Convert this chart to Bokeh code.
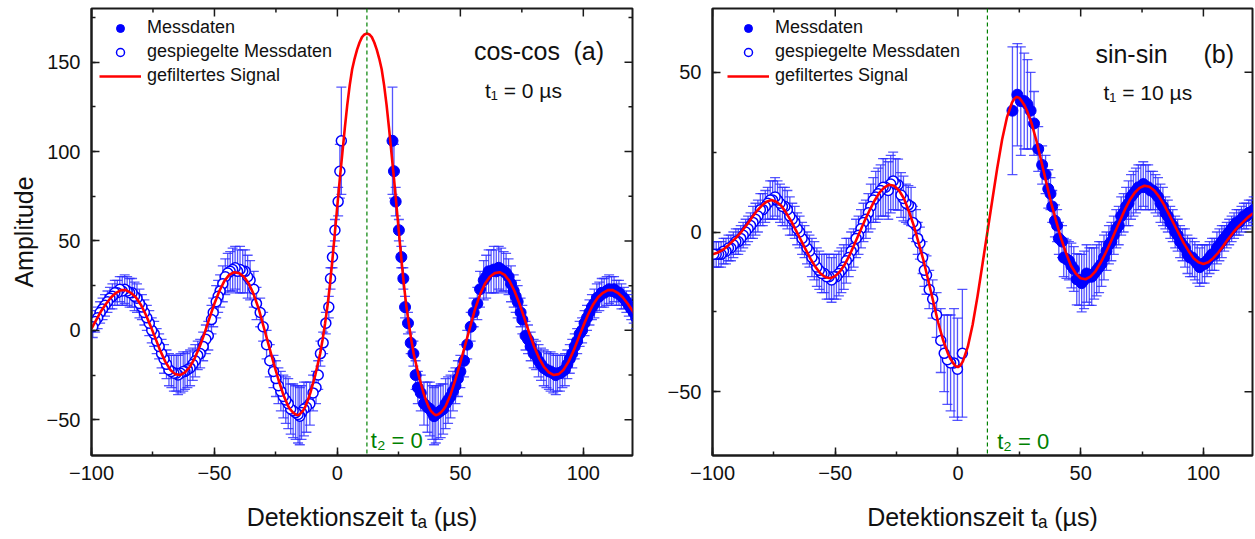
import numpy as np
from bokeh.plotting import figure
from bokeh.layouts import row
from bokeh.models import (ColumnDataSource, SingleIntervalTicker, Span,
                          Legend, LegendItem, Range1d, Label)
from bokeh.embed import file_html
from bokeh.resources import INLINE

# ---------------- data ----------------
t2_zero = 12.0  # position of t2 = 0 on the detection-time axis (µs)

# (a) cos-cos, t1 = 0 µs : measured data (right of t2 = 0)
cos_t = [22.4, 23.0, 23.7, 25.0, 26.0, 26.8, 27.5, 28.7, 29.8, 30.9, 31.8, 32.7,
         33.9, 35.2, 36.6, 37.6, 38.6, 39.3, 40.0,
         41.0, 42.0, 43.0, 44.0, 45.0, 46.0, 47.0, 48.0, 49.0, 50.0,
         51.5, 52.8, 54.2, 55.4, 56.9, 58.0, 59.5,
         60.5, 61.5, 62.5, 63.6, 64.6, 65.6, 66.6, 67.6, 68.6, 69.6, 70.6, 71.7, 72.5, 73.3,
         74.5, 75.2, 76.5, 77.5, 78.6, 79.8, 80.8, 81.8, 82.8, 83.9, 85.0, 86.0, 86.7, 87.8,
         88.8, 89.5,
         90.5, 91.5, 92.5, 93.5, 94.5, 95.5, 96.5, 97.5, 98.5, 99.5, 100.5, 101.5, 102.5,
         103.5, 104.5, 105.5, 106.5, 107.5, 108.5, 109.5, 110.5, 111.5, 112.5, 113.5, 114.5,
         115.5, 116.5, 117.5, 118.5, 119.5, 120.5, 121.5, 122.5, 123.5]
cos_amp = [106, 89, 72, 56, 41, 29, 13, 4, -7, -13, -25, -32,
           -35, -41, -43, -44, -46, -48, -47,
           -46, -45, -44, -41, -39, -37, -34, -31, -27, -23,
           -17, -8, 2, 10, 15, 23, 28,
           30, 33, 33, 34, 33, 35, 34, 33, 32, 30, 26, 22, 19, 16,
           10, 6, -3, -5, -9, -13, -14, -17, -19, -21, -22, -23, -23, -24,
           -25, -24,
           -24, -23, -22, -19, -16, -13, -9, -6, -2, 0, 4, 7, 10,
           13, 15, 18, 19, 21, 21, 22, 23, 22, 23, 21, 21,
           19, 18, 16, 14, 12, 10, 7, 5, 2]
cos_err = [30, 15, 8, 6, 6, 6, 6, 6, 6, 7, 8, 9,
           10, 12, 14, 15, 15, 16, 16,
           15, 15, 14, 14, 13, 12, 11, 10, 10, 9,
           9, 8, 8, 8, 9, 10, 11,
           12, 12, 12, 13, 12, 12, 12, 11, 11, 10, 10, 9, 9, 9,
           8, 8, 8, 8, 8, 8, 8, 9, 9, 10, 10, 10, 11, 11,
           11, 10,
           10, 9, 9, 8, 8, 8, 7, 7, 7, 7, 7, 7, 7,
           7, 8, 8, 8, 8, 8, 8, 8, 8, 7, 7, 7,
           7, 6, 6, 6, 6, 6, 6, 6, 6]
# filtered signal (a), t_a >= t2_zero
cos_fit_t = [12, 13, 14, 15, 16, 17, 18, 19, 20, 21, 22, 23, 24, 25, 26, 27, 28, 29, 30,
             31, 32, 33, 34, 35, 36, 37, 38, 39, 40, 41, 42, 43, 44, 46, 48, 50, 52, 54,
             56, 58, 60, 62, 64, 66, 68, 70, 72, 74, 76, 78, 80, 82, 84, 86, 88, 90, 92,
             94, 96, 98, 100, 102, 104, 106, 108, 110, 112, 114, 116, 118, 120, 122, 124]
cos_fit_amp = [166, 165.5, 164, 161, 157, 152, 146, 137, 126, 113, 99, 85, 70, 55, 40,
               26, 14, 4, -5, -13, -19, -25, -30, -35, -39, -42.5, -45, -46.5, -47.5,
               -47, -46, -44.5, -42.5, -36, -27.5, -18, -8, 2, 12, 20, 26, 30, 32, 32.5,
               31, 27.5, 22, 15, 7, -1.5, -9, -15.5, -20.5, -23.5, -25, -24.5, -22,
               -17.5, -11.5, -4.5, 2.5, 9, 14.5, 18.5, 21, 22.5, 22.5, 21, 18.5, 15, 11,
               6, 1]

# (b) sin-sin, t1 = 10 µs : measured data (right of t2 = 0)
sin_t = [22.2, 24.2, 25.6, 27.0, 28.3, 29.6, 31.0, 32.7, 34.3, 35.7, 36.8, 37.7, 38.4,
         39.5, 40.4, 41.1, 42.4, 43.1, 44.2, 45.2, 46.2, 47.2, 48.4, 49.4, 50.4, 51.4, 52.4,
         53.5, 54.5, 55.5, 56.5, 57.5, 58.5, 59.5, 60.5, 61.5, 62.5,
         63.5, 64.5, 65.5, 66.5, 67.5, 68.5, 69.5, 70.5, 71.5, 72.5,
         73.5, 74.5, 75.5, 76.5, 77.5, 78.5, 79.5, 80.5, 81.5, 82.5,
         83.5, 84.5, 85.5, 86.5, 87.5, 88.5, 89.5, 90.5, 91.5, 92.5,
         93.5, 94.5, 95.5, 96.5, 97.5, 98.5, 99.5, 100.5, 101.5, 102.5,
         103.5, 104.5, 105.5, 106.5, 107.5, 108.5, 109.5, 110.5, 111.5, 112.5,
         113.5, 114.5, 115.5, 116.5, 117.5, 118.5, 119.5, 120.5, 121.5, 122.5, 123.5]
sin_amp = [38, 43, 41, 41, 40, 38, 34, 26, 21, 18, 13.5, 12, 8,
           3.5, 2, -2, -3, -8, -8.5, -9, -10.5, -11.6, -14.8, -15, -16, -15, -13,
           -14, -14, -13, -12, -11, -10, -8, -6, -4, -3,
           -1, 1, 2, 5, 6, 8, 9, 11, 12, 13,
           14, 14, 15, 14, 14, 13, 13, 12, 11, 9,
           8, 6, 5, 3, 2, 0, -1, -3, -4, -5,
           -7, -8, -8, -9, -10, -11, -10, -10, -9, -8,
           -7, -7, -5, -4, -3, -2, -1, 0, 1, 2,
           3, 3, 4, 5, 5, 6, 6, 7, 7, 7, 7]
sin_err = [20, 16, 17, 15, 14, 12, 10, 7, 6, 6, 6, 5, 5,
           5, 5, 5, 5, 6, 6, 6, 7, 7, 8, 8, 9, 9, 9,
           9, 9, 8, 8, 8, 7, 7, 6, 6, 6,
           6, 6, 6, 6, 6, 6, 7, 7, 7, 7,
           7, 7, 7, 7, 7, 6, 6, 6, 6, 6,
           6, 5, 5, 5, 5, 5, 5, 5, 5, 6,
           6, 6, 6, 6, 6, 6, 6, 6, 5, 5,
           5, 5, 5, 5, 5, 4, 4, 4, 4, 4,
           4, 4, 4, 4, 4, 4, 4, 4, 4, 4, 4]
sin_fit_t = [12, 14, 16, 18, 20, 22, 23, 24, 25, 26, 27, 28, 30, 32, 34, 36, 38, 40, 42,
             44, 46, 48, 50, 52, 54, 56, 58, 60, 62, 64, 66, 68, 70, 72, 74, 76, 78, 80,
             82, 84, 86, 88, 90, 92, 94, 96, 98, 100, 102, 104, 106, 108, 110, 112, 114,
             116, 118, 120, 122, 124]
sin_fit_amp = [0, 10, 20, 29, 36, 40.5, 41.8, 42.3, 42, 41, 39.8, 38.2, 34, 28.5, 22,
               15.5, 9, 3.5, -2, -6.5, -10.5, -13, -14.5, -14.8, -14, -12.3, -9.8, -6.8,
               -3.5, 0, 3.5, 7, 10, 12.3, 13.8, 14.5, 14.2, 13, 11, 8.5, 5.5, 2.5, -0.5,
               -3.5, -6, -8.2, -9.5, -10, -9.5, -8.2, -6.5, -4.5, -2.3, -0.3, 1.5, 3, 4.5,
               5.7, 6.5, 7]

# tick positions for the mirrored (top / right) tick marks
x_major = [-100, -50, 0, 50, 100]
x_minor = [-75, -25, 25, 75]
cos_y_major = [-50, 0, 50, 100, 150]
cos_y_minor = [-25, 25, 75, 125, 175]
sin_y_major = [-50, 0, 50]
sin_y_minor = [-25, 25]

FONT = "Liberation Sans"
BLUE = "#0000ff"
ERR = "#2a2aff"
RED = "#ff0000"
GREEN = "#008000"
AXC = "#1a1a1a"
HEIGHT = 539
TOP, BOTTOM = 8, 84
XR = (-100, 120)


def build(t, a, e, ft, fa, sign, width, bl, br, yr, ymaj, ymin, ylabel, title, tag, tag_x,
          title_xy, t1_text, t1_xy, t2_xy, leg_x):
    t = np.asarray(t, float); a = np.asarray(a, float); e = np.asarray(e, float)
    ft = np.asarray(ft, float); fa = np.asarray(fa, float)
    # mirrored data ("gespiegelte Messdaten") about t2 = 0
    mt = 2 * t2_zero - t
    ma = sign * a
    full_t = np.concatenate([(2 * t2_zero - ft[1:])[::-1], ft])
    full_a = np.concatenate([(sign * fa[1:])[::-1], fa])

    p = figure(width=width, height=HEIGHT, x_range=Range1d(*XR), y_range=Range1d(*yr),
               output_backend="svg", toolbar_location=None,
               min_border_left=bl, min_border_right=br, min_border_top=TOP,
               min_border_bottom=BOTTOM)
    p.grid.visible = False
    p.outline_line_color = AXC
    p.outline_line_width = 2
    p.background_fill_color = "white"
    p.border_fill_color = "white"

    p.xaxis.ticker = SingleIntervalTicker(interval=50, num_minor_ticks=2)
    p.yaxis.ticker = SingleIntervalTicker(interval=50, num_minor_ticks=2)
    for ax in p.axis:
        ax.axis_line_width = 2
        ax.axis_line_color = AXC
        ax.major_tick_in = 8
        ax.major_tick_out = 0
        ax.minor_tick_in = 4
        ax.minor_tick_out = 0
        ax.major_tick_line_width = 1.5
        ax.minor_tick_line_width = 1.5
        ax.major_tick_line_color = AXC
        ax.minor_tick_line_color = AXC
        ax.major_label_text_font = FONT
        ax.major_label_text_font_size = "20px"
        ax.major_label_text_color = "#111111"
        ax.major_label_standoff = 11
        ax.axis_label_text_font = FONT
        ax.axis_label_text_font_size = "25px"
        ax.axis_label_text_font_style = "normal"
        ax.axis_label_text_color = "#111111"
    xb = p.below[0]
    xb.axis_label = "Detektionszeit tₐ (µs)"
    xb.axis_label_standoff = 20
    xb.major_label_standoff = 10
    if ylabel:
        yl = p.left[0]
        yl.axis_label = ylabel
        yl.axis_label_standoff = 6

    # mirrored tick marks on top and right edges (inward)
    fw = width - bl - br
    fh = HEIGHT - TOP - BOTTOM
    dx = (XR[1] - XR[0]) / fw
    dy = (yr[1] - yr[0]) / fh
    for ticks, ln in ((x_major, 8), (x_minor, 4)):
        p.segment(x0=ticks, y0=[yr[1]] * len(ticks), x1=ticks,
                  y1=[yr[1] - ln * dy] * len(ticks), line_color=AXC, line_width=1.5)
    for ticks, ln in ((ymaj, 8), (ymin, 4)):
        p.segment(x0=[XR[1]] * len(ticks), y0=ticks, x1=[XR[1] - ln * dx] * len(ticks),
                  y1=ticks, line_color=AXC, line_width=1.5)

    span = Span(location=t2_zero, dimension="height", line_color=GREEN,
                line_dash="4 3", line_width=1.2)
    p.add_layout(span)

    # error bars
    all_t = np.concatenate([mt, t]); all_a = np.concatenate([ma, a]); all_e = np.concatenate([e, e])
    es = ColumnDataSource(dict(x=all_t, lo=all_a - all_e, hi=all_a + all_e))
    p.segment(x0="x", y0="lo", x1="x", y1="hi", source=es, line_color=ERR,
              line_alpha=0.8, line_width=1.3)
    p.scatter(x="x", y="lo", source=es, marker="dash", size=10, line_color=ERR,
              line_alpha=0.8, line_width=1.3)
    p.scatter(x="x", y="hi", source=es, marker="dash", size=10, line_color=ERR,
              line_alpha=0.8, line_width=1.3)

    r_open = p.scatter(mt, ma, marker="circle", size=10, fill_color="white",
                       line_color=BLUE, line_width=1.5)
    r_fill = p.scatter(t, a, marker="circle", size=11, fill_color=BLUE,
                       line_color=BLUE, line_width=1)
    r_line = p.line(full_t, full_a, line_color=RED, line_width=2.6)

    legend = Legend(items=[LegendItem(label="Messdaten", renderers=[r_fill]),
                           LegendItem(label="gespiegelte Messdaten", renderers=[r_open]),
                           LegendItem(label="gefiltertes Signal", renderers=[r_line])],
                    location=(leg_x, 369))
    legend.margin = 0
    legend.padding = 0
    legend.spacing = 3
    legend.glyph_width = 42
    legend.glyph_height = 20
    legend.label_height = 20
    legend.label_standoff = 6
    legend.label_text_font = FONT
    legend.label_text_font_size = "18px"
    legend.label_text_color = "#111111"
    legend.background_fill_alpha = 0
    legend.border_line_color = None
    p.add_layout(legend)

    p.add_layout(Label(x=title_xy[0], y=title_xy[1], text=title, text_font=FONT,
                       text_font_size="25px", text_baseline="alphabetic",
                       text_color="#111111"))
    p.add_layout(Label(x=tag_x, y=title_xy[1], text=tag, text_font=FONT,
                       text_font_size="25px", text_baseline="alphabetic",
                       text_color="#111111"))
    p.add_layout(Label(x=t1_xy[0], y=t1_xy[1], text=t1_text, text_font=FONT,
                       text_font_size="21px", text_baseline="alphabetic",
                       text_color="#111111"))
    p.add_layout(Label(x=t2_xy[0], y=t2_xy[1], text="t₂ = 0", text_font=FONT,
                       text_font_size="22px", text_baseline="alphabetic",
                       text_color=GREEN))
    return p


p1 = build(cos_t, cos_amp, cos_err, cos_fit_t, cos_fit_amp, 1, 660, 91, 28, (-70, 180),
           cos_y_major, cos_y_minor,
           "Amplitude", "cos-cos", "(a)", 96.0, (55.5, 156.5), "t₁ = 0 µs", (60.0, 134),
           (13.6, -61.5), 8)
p2 = build(sin_t, sin_amp, sin_err, sin_fit_t, sin_fit_amp, -1, 595, 52, 3, (-70, 70),
           sin_y_major, sin_y_minor,
           None, "sin-sin", "(b)", 100.0, (56.0, 55.8), "t₁ = 10 µs", (59.3, 43.6),
           (16.0, -65.5), 15)

layout = row(p1, p2, spacing=0)
open("out.html", "w").write(file_html(layout, INLINE))
